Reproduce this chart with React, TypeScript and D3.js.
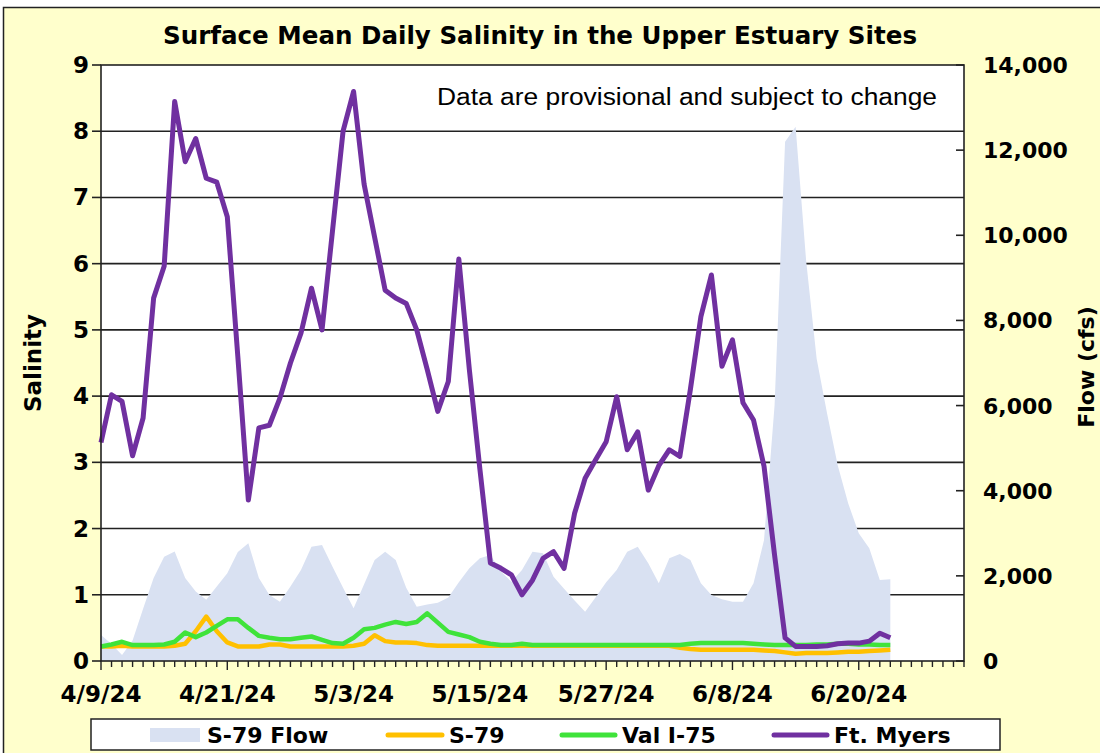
import React from "react";
import * as d3 from "d3";

// daily values, 4/9/24 .. 6/23/24
const s79Flow = [
  611, 400, 141, 480, 1230, 1950, 2450, 2570, 1950, 1630, 1440, 1750, 2060, 2560, 2765, 1950,
  1550, 1393, 1750, 2140, 2685, 2725, 2215, 1720, 1238, 1800, 2373, 2568, 2373, 1720, 1276, 1330,
  1370, 1490, 1850, 2177, 2412, 2490, 2100, 1863, 2138, 2568, 2530, 1980, 1700, 1420, 1158, 1500,
  1850, 2138, 2568, 2685, 2295, 1825, 2412, 2513, 2373, 1825, 1550, 1450, 1393, 1393, 1825, 2842,
  6000, 12200, 12550, 9400, 7100, 5800, 4600, 3700, 3000, 2650, 1903, 1919,
];
const s79 = [
  0.22, 0.22, 0.23, 0.22, 0.22, 0.22, 0.22, 0.23, 0.26, 0.45, 0.67, 0.45, 0.28, 0.22, 0.22, 0.22,
  0.25, 0.25, 0.22, 0.22, 0.22, 0.22, 0.22, 0.22, 0.23, 0.26, 0.39, 0.3, 0.28, 0.28, 0.27, 0.24,
  0.23, 0.23, 0.23, 0.23, 0.23, 0.23, 0.23, 0.23, 0.23, 0.23, 0.23, 0.23, 0.23, 0.23, 0.23, 0.23,
  0.23, 0.23, 0.23, 0.23, 0.23, 0.23, 0.23, 0.2, 0.18, 0.17, 0.17, 0.17, 0.17, 0.17, 0.17, 0.16,
  0.15, 0.13, 0.11, 0.12, 0.12, 0.12, 0.13, 0.14, 0.14, 0.15, 0.16, 0.17,
];
const valI75 = [
  0.22, 0.25, 0.29, 0.24, 0.24, 0.24, 0.25, 0.29, 0.43, 0.36, 0.43, 0.53, 0.63, 0.63, 0.5, 0.38,
  0.35, 0.33, 0.33, 0.35, 0.37, 0.32, 0.27, 0.26, 0.35, 0.48, 0.5, 0.55, 0.59, 0.56, 0.59, 0.72,
  0.58, 0.44, 0.4, 0.36, 0.29, 0.26, 0.24, 0.24, 0.26, 0.24, 0.24, 0.24, 0.24, 0.24, 0.24, 0.24,
  0.24, 0.24, 0.24, 0.24, 0.24, 0.24, 0.24, 0.24, 0.26, 0.27, 0.27, 0.27, 0.27, 0.27, 0.26, 0.25,
  0.24, 0.24, 0.24, 0.24, 0.25, 0.25, 0.26, 0.26, 0.25, 0.25, 0.24, 0.24,
];
const ftMyers = [
  3.3, 4.02, 3.92, 3.1, 3.67, 5.48, 5.96, 8.45, 7.54, 7.89, 7.29, 7.23, 6.71, 4.6, 2.43, 3.52,
  3.56, 3.97, 4.5, 4.95, 5.63, 5.0, 6.5, 8.0, 8.6, 7.2, 6.4, 5.6, 5.48, 5.4, 5.0, 4.4,
  3.77, 4.22, 6.07, 4.4, 2.9, 1.48, 1.4, 1.3, 1.0, 1.22, 1.55, 1.65, 1.4, 2.23, 2.76, 3.04,
  3.31, 3.99, 3.19, 3.46, 2.58, 2.95, 3.19, 3.09, 4.1, 5.2, 5.83, 4.45, 4.85, 3.9, 3.64, 2.94,
  1.6, 0.35, 0.22, 0.22, 0.22, 0.23, 0.26, 0.27, 0.27, 0.3, 0.42, 0.35,
];

const startDate = new Date(2024, 3, 9);
const endDate = new Date(2024, 5, 30);
const dates = d3.timeDay.range(startDate, d3.timeDay.offset(startDate, s79Flow.length));
const dateTicks = ["4/9/24", "4/21/24", "5/3/24", "5/15/24", "5/27/24", "6/8/24", "6/20/24"];
const salinityTicks = [0, 1, 2, 3, 4, 5, 6, 7, 8, 9];
const flowTicks = [0, 2000, 4000, 6000, 8000, 10000, 12000, 14000];

const legendItems = [
  { label: "S-79 Flow", color: "#D9E1F2", kind: "area", x: 150, w: 50 },
  { label: "S-79", color: "#FFC000", kind: "line", x: 388, w: 54 },
  { label: "Val I-75", color: "#3FE33A", kind: "line", x: 562, w: 53 },
  { label: "Ft. Myers", color: "#7030A0", kind: "line", x: 774, w: 53 },
];

const BOLD = "'DejaVu Sans', Verdana, sans-serif";
const PLAIN = "'Liberation Sans', Arial, sans-serif";

const App = () => {
  const margin = { top: 65, right: 136, bottom: 92, left: 101 };
  const W = 1100;
  const H = 753;
  const plotRight = W - margin.right;
  const plotBottom = H - margin.bottom;

  const x = d3.scaleTime().domain([startDate, endDate]).range([margin.left, plotRight]);
  const y = d3.scaleLinear().domain([0, 9]).range([plotBottom, margin.top]);
  const yFlow = d3.scaleLinear().domain([0, 14000]).range([plotBottom, margin.top]);

  const area = d3
    .area<number>()
    .x((_, i) => x(dates[i]))
    .y0(yFlow(0))
    .y1((d) => yFlow(d));

  const line = d3
    .line<number>()
    .x((_, i) => x(dates[i]))
    .y((d) => y(d));

  const allDays = d3.timeDay.range(startDate, d3.timeDay.offset(endDate, 1));
  const majorDays = dateTicks.map((_, i) => d3.timeDay.offset(startDate, i * 12));
  const fmtFlow = d3.format(",");

  return (
    <svg
      width={W}
      height={H}
      style={{ position: "absolute", left: 0, top: 0, fontFamily: BOLD }}
    >
      <rect x={3.5} y={7.5} width={W + 10} height={H + 10} fill="#FFFFCC" stroke="#222" strokeWidth={1.5} />

      <text
        x={540}
        y={44}
        textAnchor="middle"
        fontSize={24}
        fontWeight="bold"
        textLength={754}
        lengthAdjust="spacingAndGlyphs"
      >
        Surface Mean Daily Salinity in the Upper Estuary Sites
      </text>

      {/* plot area */}
      <rect
        x={margin.left}
        y={margin.top}
        width={plotRight - margin.left}
        height={plotBottom - margin.top}
        fill="#fff"
      />

      {/* gridlines */}
      {salinityTicks.slice(1, -1).map((t) => (
        <line key={t} x1={margin.left} x2={plotRight} y1={y(t)} y2={y(t)} stroke="#222" strokeWidth={1.6} />
      ))}

      <path d={area(s79Flow) || ""} fill="#D9E1F2" />
      <path d={line(s79) || ""} fill="none" stroke="#FFC000" strokeWidth={4.5} strokeLinejoin="round" />
      <path d={line(valI75) || ""} fill="none" stroke="#3FE33A" strokeWidth={4.5} strokeLinejoin="round" />
      <path d={line(ftMyers) || ""} fill="none" stroke="#7030A0" strokeWidth={5} strokeLinejoin="round" />

      <text
        x={937}
        y={105}
        textAnchor="end"
        fontFamily={PLAIN}
        fontSize={23}
        textLength={500}
        lengthAdjust="spacingAndGlyphs"
      >
        Data are provisional and subject to change
      </text>

      {/* plot frame */}
      <rect
        x={margin.left}
        y={margin.top}
        width={plotRight - margin.left}
        height={plotBottom - margin.top}
        fill="none"
        stroke="#222"
        strokeWidth={1.6}
      />

      {/* left axis */}
      {salinityTicks.map((t) => (
        <g key={t}>
          <line x1={margin.left - 9} x2={margin.left} y1={y(t)} y2={y(t)} stroke="#222" strokeWidth={1.6} />
          <text x={89} y={y(t) + 8} textAnchor="end" fontSize={23} fontWeight="bold">
            {t}
          </text>
        </g>
      ))}
      <text
        transform={`translate(41,${(margin.top + plotBottom) / 2}) rotate(-90)`}
        textAnchor="middle"
        fontSize={23}
        fontWeight="bold"
      >
        Salinity
      </text>

      {/* right axis */}
      {flowTicks.map((t) => (
        <g key={t}>
          <line x1={plotRight - 8} x2={plotRight} y1={yFlow(t)} y2={yFlow(t)} stroke="#222" strokeWidth={1.6} />
          <text x={983} y={yFlow(t) + 8} textAnchor="start" fontSize={22} fontWeight="bold">
            {fmtFlow(t)}
          </text>
        </g>
      ))}
      <text
        transform={`translate(1094,${(margin.top + plotBottom) / 2 + 4}) rotate(-90)`}
        textAnchor="middle"
        fontSize={22}
        fontWeight="bold"
      >
        Flow (cfs)
      </text>

      {/* x axis */}
      {allDays.map((d, i) => (
        <line
          key={i}
          x1={x(d)}
          x2={x(d)}
          y1={plotBottom}
          y2={plotBottom + (i % 12 === 0 ? 9 : 6)}
          stroke="#222"
          strokeWidth={1.4}
        />
      ))}
      {majorDays.map((d, i) => (
        <text key={i} x={x(d)} y={702} textAnchor="middle" fontSize={23} fontWeight="bold">
          {dateTicks[i]}
        </text>
      ))}

      {/* legend */}
      <rect x={91} y={719} width={909} height={31} fill="#fff" stroke="#222" strokeWidth={1.5} />
      {legendItems.map((it) => (
        <g key={it.label}>
          {it.kind === "area" ? (
            <rect x={it.x} y={728} width={it.w} height={14} fill={it.color} />
          ) : (
            <line x1={it.x} x2={it.x + it.w} y1={735} y2={735} stroke={it.color} strokeWidth={5} strokeLinecap="round" />
          )}
          <text x={it.x + it.w + 7} y={743} fontSize={22} fontWeight="bold">
            {it.label}
          </text>
        </g>
      ))}
    </svg>
  );
};

export default App;
